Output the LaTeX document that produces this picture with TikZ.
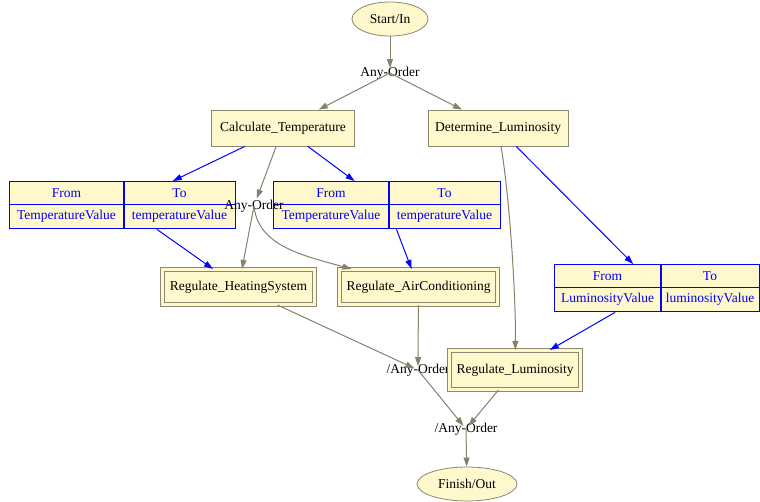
\documentclass[tikz,border=0pt]{standalone}
\usepackage{fontspec}
\setmainfont{Liberation Serif}
\usetikzlibrary{arrows.meta,shapes.geometric}
\definecolor{boxfill}{RGB}{255,248,204}
\definecolor{boxline}{RGB}{138,136,112}
\definecolor{flowline}{RGB}{132,130,106}
\def\valuetable(#1)(#2,#3)(#4:#5)#6#7{
	\node[tblbox, minimum width=#4+#5, anchor=north west] (#1) at (#2,#3) {};
	\draw[tblline] (#2,#3+23.5) -- (#2+#4+#5,#3+23.5);
	\draw[tblline] (#2+#4,#3) -- (#2+#4,#3+47);
	\node[tbltext] at (#2+#4/2,#3+12) {From};
	\node[tbltext] at (#2+#4+#5/2,#3+12) {To};
	\node[tbltext] at (#2+#4/2,#3+35) {#6};
	\node[tbltext] at (#2+#4+#5/2,#3+35) {#7};
}

\begin{document}
\begin{tikzpicture}[x=1pt, y=-1pt,
		every node/.style={font=\fontsize{13.5}{16}\selectfont},
		event/.style={ellipse, draw=boxline, fill=boxfill, inner sep=0, line width=0.8pt},
		task/.style={rectangle, draw=boxline, fill=boxfill, inner sep=0, line width=0.8pt},
		service/.style={task, double=boxfill, double distance=3pt},
		tblbox/.style={rectangle, draw=blue, fill=boxfill, inner sep=0, line width=1.3pt, minimum height=47},
		tblline/.style={draw=blue, line width=1.3pt},
		tbltext/.style={text=blue, inner sep=0},
		orderlabel/.style={inner sep=0},
		flow/.style={draw=flowline, line width=1pt, -{Triangle[length=9pt,width=6pt]}},
		datalink/.style={draw=blue, line width=1pt, -{Triangle[length=9pt,width=6pt]}}]
		%%%%% START %%%%%
		\useasboundingbox (0,0) rectangle (760,501);
		
		\node[event, minimum width=76, minimum height=34] (start) at (390,19) {Start/In};
		\node[orderlabel] (j1) at (390,73) {Any-Order};
		
		\node[task, minimum width=143, minimum height=36] (calc) at (283,128) {Calculate\_Temperature};
		\node[task, minimum width=140, minimum height=36] (det) at (498,128) {Determine\_Luminosity};
		
		\valuetable(tin)(9,181)(115:111){TemperatureValue}{temperatureValue}
		\valuetable(tac)(273,181)(116:111){TemperatureValue}{temperatureValue}
		\valuetable(lum)(554,264)(107:98){LuminosityValue}{luminosityValue}
		
		\node[service, minimum width=152.4, minimum height=35.4] (rheat) at (238.5,287) {Regulate\_HeatingSystem};
		\node[service, minimum width=158.4, minimum height=35.4] (rair) at (418.5,287) {Regulate\_AirConditioning};
		
		\node[orderlabel] (j2) at (254,206) {Any-Order};
		\node[orderlabel] (j3) at (418,370) {/Any-Order};
		\node[service, minimum width=131.4, minimum height=39.4] (rlum) at (515,370) {Regulate\_Luminosity};
		\node[orderlabel] (j4) at (466,429) {/Any-Order};
		
		\node[event, minimum width=100, minimum height=34] (finish) at (467,484) {Finish/Out};
		
		% control flow
		\draw[flow, shorten >=5pt] (start) -- (j1.center);
		\draw[flow] (j1.center) -- (calc);
		\draw[flow] (j1.center) -- (det);
		\draw[flow, shorten >=8pt] (calc) -- (j2.center);
		\draw[flow] (j2.center) -- (rheat);
		\draw[flow] (j2.center) .. controls (258,245) and (300,255) .. (rair);
		\draw[flow] (det) .. controls (510,200) and (516,300) .. (rlum);
		\draw[flow, shorten >=4pt] (rheat) -- (j3.center);
		\draw[flow, shorten >=4pt] (rair) -- (j3.center);
		\draw[flow, shorten >=4pt] (j3.center) -- (j4.center);
		\draw[flow, shorten >=4pt] (rlum) -- (j4.center);
		\draw[flow] (j4.center) -- (finish);
		
		% data flow
		\draw[datalink] (calc) -- (tin);
		\draw[datalink] (calc) -- (tac);
		\draw[datalink] (tin) -- (rheat);
		\draw[datalink] (tac) -- (rair);
		\draw[datalink] (det) -- (lum);
		\draw[datalink] (lum) -- (rlum);
		%%%%% END %%%%%
\end{tikzpicture}
\end{document}
